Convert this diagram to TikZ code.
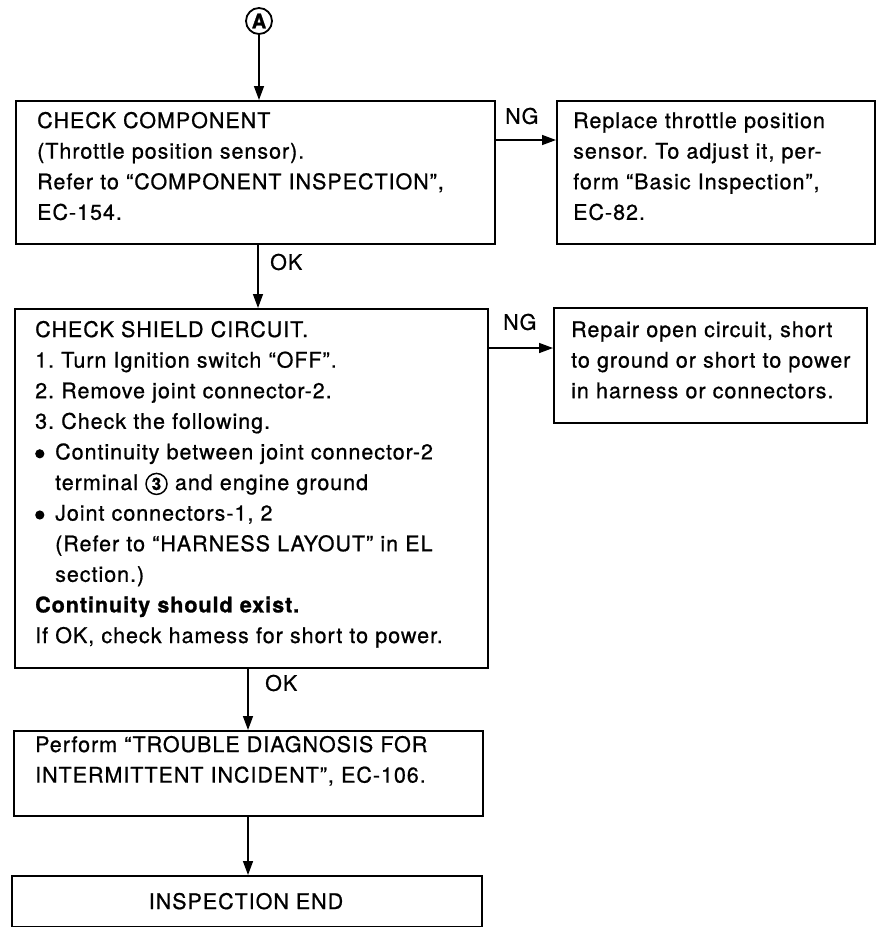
\documentclass[tikz,border=0pt]{standalone}
\usepackage{fontspec}
\setmainfont[LetterSpace=4.5,UprightFeatures={FakeBold=0.8},BoldFeatures={FakeBold=1.2}]{TeX Gyre Heros}
\usetikzlibrary{arrows.meta}
\newcommand{\mybul}{\makebox[20pt][l]{\raisebox{1pt}{\tikz\fill (0,0) circle (4.6pt);}}}
\newcommand{\mycirc}[1]{\tikz[baseline=(cc.base)]\node[draw,circle,line width=1.5pt,inner sep=0pt,minimum size=21pt,font=\bfseries\fontsize{17}{17}\selectfont](cc){#1};}
\begin{document}
\frenchspacing
\begin{tikzpicture}[x=1pt,y=-1pt,
  box/.style={draw, line width=1.6pt, inner sep=0pt, anchor=north west},
  txt/.style={anchor=base west, align=left, inner sep=0pt, text width=450pt, font=\fontsize{21.5}{30.6}\selectfont},
  lbl/.style={anchor=west, inner sep=0pt, font=\fontsize{21.5}{25}\selectfont},
  arr/.style={line width=1.5pt, -{Triangle[length=14pt,width=10pt]}}]
\useasboundingbox (0,0) rectangle (877,927);

% start marker
\node[draw, circle, line width=1.8pt, minimum size=26pt, inner sep=0pt,
      font=\bfseries\fontsize{20}{20}\selectfont] (A) at (259,21) {A};

% boxes
\node[box, minimum width=479pt, minimum height=143pt] (b1) at (15,100) {};
\node[box, minimum width=318pt, minimum height=143pt] (b3) at (556,100) {};
\node[box, minimum width=473pt, minimum height=359pt] (b2) at (14,308) {};
\node[box, minimum width=313pt, minimum height=115pt] (b4) at (553,307) {};
\node[box, minimum width=469pt, minimum height=85pt] (b5) at (13,730) {};
\node[box, minimum width=470pt, minimum height=51pt] (b6) at (11,875) {};

% texts
\node[txt] (t1) at (37,128) {CHECK COMPONENT\\(Throttle position sensor).\\Refer to “COMPONENT INSPECTION”,\\EC-154.};
\node[txt] (t3) at (573,128) {Replace throttle position\\sensor. To adjust it, per-\\form “Basic Inspection”,\\EC-82.};
\node[txt] (t2) at (35,337) {CHECK SHIELD CIRCUIT.\\1. Turn Ignition switch “OFF”.\\2. Remove joint connector-2.\\3. Check the following.\\\mybul Continuity between joint connector-2\\\hspace*{20pt}terminal \mycirc{3} and engine ground\\\mybul Joint connectors-1, 2\\\hspace*{20pt}(Refer to “HARNESS LAYOUT” in EL\\\hspace*{20pt}section.)\\\textbf{Continuity should exist.}\\If OK, check hamess for short to power.};
\node[txt] (t4) at (571,337) {Repair open circuit, short\\to ground or short to power\\in harness or connectors.};
\node[txt] (t5) at (35,752) {Perform “TROUBLE DIAGNOSIS FOR\\INTERMITTENT INCIDENT”, EC-106.};
\node[anchor=base, inner sep=0pt, font=\fontsize{21.5}{25}\selectfont] (t6) at (246,909) {INSPECTION END};

% labels
\node[lbl] (ng1) at (505,116) {NG};
\node[lbl] (ok1) at (270,262) {OK};
\node[lbl] (ng2) at (503,322) {NG};
\node[lbl] (ok2) at (265,683) {OK};

% helper coordinates
\coordinate (xa) at (258,0);
\coordinate (xb) at (248,0);
\coordinate (ya) at (0,140);
\coordinate (yb) at (0,348);

% connectors
\draw[arr] (A.south) -- (A.south |- b1.north);
\draw[arr] (b1.south -| xa) -- (b2.north -| xa);
\draw[arr] (b2.south -| xb) -- (b5.north -| xb);
\draw[arr] (b5.south -| xb) -- (b6.north -| xb);
\draw[arr] (b1.east |- ya) -- (b3.west |- ya);
\draw[arr] (b2.east |- yb) -- (b4.west |- yb);
\end{tikzpicture}
\end{document}
